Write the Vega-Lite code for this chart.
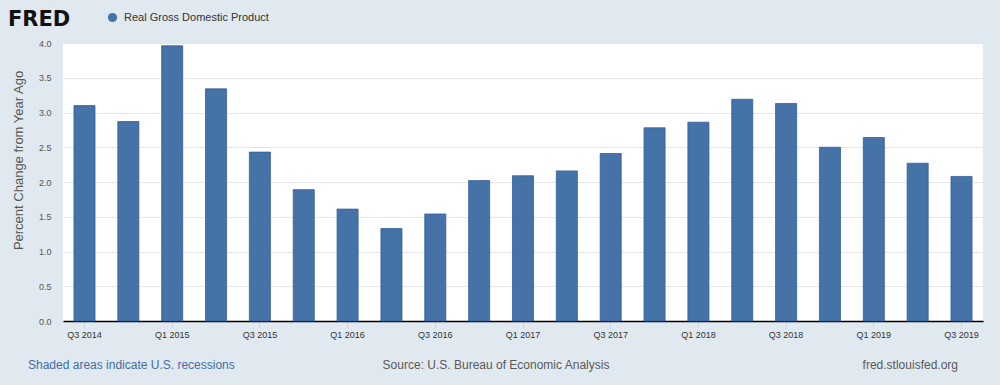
{
  "$schema": "https://vega.github.io/schema/vega-lite/v6.json",
  "width": 920,
  "height": 278,
  "autosize": {"type": "none"},
  "padding": {"left": 63, "top": 43, "right": 17, "bottom": 64},
  "background": "#e1e9f0",
  "config": {"view": {"fill": "white", "stroke": null}, "font": "Liberation Sans"},
  "layer": [
    {
      "data": {"values": [
        {"quarter": "Q3 2014", "value": 3.10, "series": "Real Gross Domestic Product"},
        {"quarter": "Q4 2014", "value": 2.87, "series": "Real Gross Domestic Product"},
        {"quarter": "Q1 2015", "value": 3.96, "series": "Real Gross Domestic Product"},
        {"quarter": "Q2 2015", "value": 3.34, "series": "Real Gross Domestic Product"},
        {"quarter": "Q3 2015", "value": 2.43, "series": "Real Gross Domestic Product"},
        {"quarter": "Q4 2015", "value": 1.89, "series": "Real Gross Domestic Product"},
        {"quarter": "Q1 2016", "value": 1.61, "series": "Real Gross Domestic Product"},
        {"quarter": "Q2 2016", "value": 1.33, "series": "Real Gross Domestic Product"},
        {"quarter": "Q3 2016", "value": 1.54, "series": "Real Gross Domestic Product"},
        {"quarter": "Q4 2016", "value": 2.02, "series": "Real Gross Domestic Product"},
        {"quarter": "Q1 2017", "value": 2.09, "series": "Real Gross Domestic Product"},
        {"quarter": "Q2 2017", "value": 2.16, "series": "Real Gross Domestic Product"},
        {"quarter": "Q3 2017", "value": 2.41, "series": "Real Gross Domestic Product"},
        {"quarter": "Q4 2017", "value": 2.78, "series": "Real Gross Domestic Product"},
        {"quarter": "Q1 2018", "value": 2.86, "series": "Real Gross Domestic Product"},
        {"quarter": "Q2 2018", "value": 3.19, "series": "Real Gross Domestic Product"},
        {"quarter": "Q3 2018", "value": 3.13, "series": "Real Gross Domestic Product"},
        {"quarter": "Q4 2018", "value": 2.50, "series": "Real Gross Domestic Product"},
        {"quarter": "Q1 2019", "value": 2.64, "series": "Real Gross Domestic Product"},
        {"quarter": "Q2 2019", "value": 2.27, "series": "Real Gross Domestic Product"},
        {"quarter": "Q3 2019", "value": 2.08, "series": "Real Gross Domestic Product"}
      ]},
      "mark": {"type": "bar", "stroke": "#33609a", "strokeWidth": 0.8},
      "encoding": {
        "x": {
          "field": "quarter", "type": "ordinal", "sort": null,
          "scale": {"paddingInner": 0.52, "paddingOuter": 0.25},
          "axis": {
            "title": null,
            "values": ["Q3 2014", "Q1 2015", "Q3 2015", "Q1 2016", "Q3 2016", "Q1 2017", "Q3 2017", "Q1 2018", "Q3 2018", "Q1 2019", "Q3 2019"],
            "labelAngle": 0, "labelFontSize": 9, "labelColor": "#333333",
            "tickColor": "#ccd6eb", "tickSize": 7, "labelPadding": 2,
            "domainColor": "#000000", "domainWidth": 1.5, "grid": false
          }
        },
        "y": {
          "field": "value", "type": "quantitative",
          "scale": {"domain": [0, 4]},
          "axis": {
            "title": "Percent Change from Year Ago",
            "values": [0, 0.5, 1, 1.5, 2, 2.5, 3, 3.5, 4],
            "format": ".1f", "ticks": false, "domain": false,
            "labelPadding": 12, "labelFontSize": 9, "labelColor": "#555555",
            "gridColor": "#e6e6e6", "gridWidth": 1,
            "titleFontSize": 13, "titleFontWeight": "normal", "titleColor": "#555555",
            "titleX": -45, "titleY": 117, "titleAngle": -90, "titleBaseline": "middle", "titleAlign": "center"
          }
        },
        "color": {
          "field": "series", "type": "nominal",
          "scale": {"range": ["#4572a7"]},
          "legend": {
            "title": null, "orient": "none", "legendX": 44, "legendY": -31,
            "symbolType": "circle", "symbolSize": 85, "symbolStrokeWidth": 0,
            "labelFontSize": 11, "labelColor": "#333333", "labelOffset": 6
          }
        }
      }
    },
    {
      "data": {"values": [{}]},
      "mark": {"type": "text", "text": "FRED", "font": "DejaVu Sans", "fontWeight": "bold", "fontSize": 21, "align": "left", "baseline": "alphabetic", "color": "#111111"},
      "encoding": {"x": {"value": -55}, "y": {"value": -17}}
    },
    {
      "data": {"values": [{}]},
      "mark": {"type": "text", "text": "Shaded areas indicate U.S. recessions", "fontSize": 12, "align": "left", "baseline": "middle", "color": "#3e6ea9"},
      "encoding": {"x": {"value": -35}, "y": {"value": 322}}
    },
    {
      "data": {"values": [{}]},
      "mark": {"type": "text", "text": "Source: U.S. Bureau of Economic Analysis", "fontSize": 12, "align": "center", "baseline": "middle", "color": "#595959"},
      "encoding": {"x": {"value": 433}, "y": {"value": 322}}
    },
    {
      "data": {"values": [{}]},
      "mark": {"type": "text", "text": "fred.stlouisfed.org", "fontSize": 12, "align": "right", "baseline": "middle", "color": "#595959"},
      "encoding": {"x": {"value": 895}, "y": {"value": 322}}
    }
  ]
}
